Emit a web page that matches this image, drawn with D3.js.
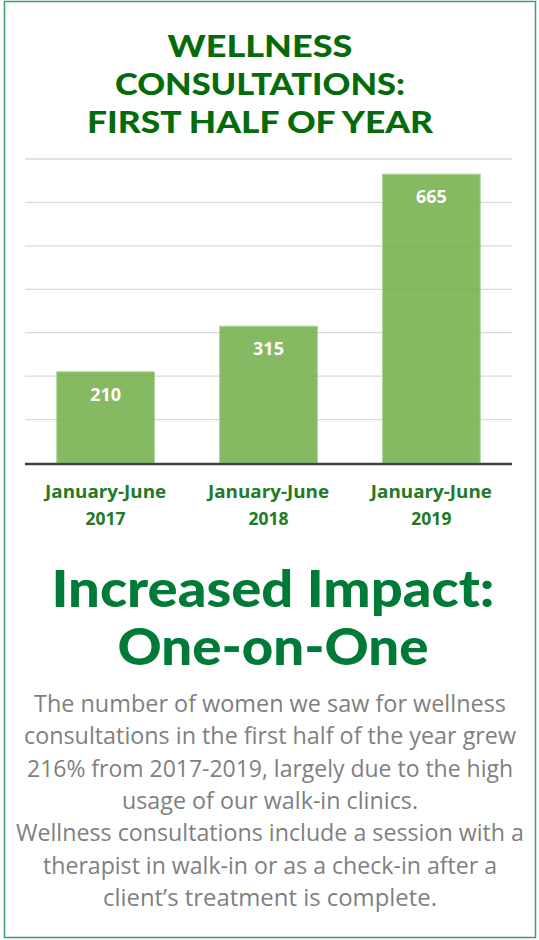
<!DOCTYPE html>
<html><head><meta charset="utf-8">
<script src="https://cdn.jsdelivr.net/npm/d3@7"></script>
<style>html,body{margin:0;padding:0;background:#fff;}svg{display:block;}</style>
</head><body>
<script>
const categories = ["January-June 2017", "January-June 2018", "January-June 2019"];
const values = [210, 315, 665];
const yTicks = [0, 100, 200, 300, 400, 500, 600, 700];
const titleLines = ["WELLNESS", "CONSULTATIONS:", "FIRST HALF OF YEAR"];
const headlineLines = ["Increased Impact:", "One-on-One"];
const bodyLines = [
  "The number of women we saw for wellness",
  "consultations in the first half of the year grew",
  "216% from 2017-2019, largely due to the high",
  "usage of our walk-in clinics.",
  "Wellness consultations include a session with a",
  "therapist in walk-in or as a check-in after a",
  "client\u2019s treatment is complete."
];

const W = 539, H = 940;
const svg = d3.select("body").append("svg").attr("width", W).attr("height", H);

// frame
svg.append("rect").attr("x", 4.5).attr("y", 1.5).attr("width", 531).attr("height", 936)
  .attr("fill", "#fff").attr("stroke", "#3f9c6b").attr("stroke-width", 1.5);

// title
const titleY = [57, 95, 133];
const titleW = [185, 290, 346];
svg.append("g").selectAll("text").data(titleLines).join("text")
  .attr("x", 260).attr("y", (d, i) => titleY[i])
  .attr("text-anchor", "middle")
  .attr("font-family", "Lato, 'Open Sans', sans-serif").attr("font-weight", 900)
  .attr("font-size", 31).attr("fill", "#056b0a")
  .attr("textLength", (d, i) => titleW[i]).attr("lengthAdjust", "spacingAndGlyphs")
  .text(d => d);

// chart
const x = d3.scaleBand().domain(categories).range([25, 512]).paddingInner(0.4).paddingOuter(0.195);
const y = d3.scaleLinear().domain([0, 700]).range([463, 159]);

svg.append("g").selectAll("line").data(yTicks.slice(1)).join("line")
  .attr("x1", 25).attr("x2", 512).attr("y1", d => y(d)).attr("y2", d => y(d))
  .attr("stroke", "#d9d9d9").attr("stroke-width", 1.3);

svg.append("g").selectAll("rect").data(values).join("rect")
  .attr("x", (d, i) => x(categories[i]))
  .attr("width", x.bandwidth())
  .attr("y", d => y(d)).attr("height", d => y(0) - y(d))
  .attr("fill", "rgba(112,173,71,0.85)")
  .attr("stroke", "#a9d49a").attr("stroke-width", 1);

// axis line
svg.append("line").attr("x1", 25).attr("x2", 512).attr("y1", y(0) + 1).attr("y2", y(0) + 1)
  .attr("stroke", "#404040").attr("stroke-width", 2.5);

// value labels
svg.append("g").selectAll("text").data(values).join("text")
  .attr("x", (d, i) => x(categories[i]) + x.bandwidth() / 2)
  .attr("y", d => y(d) + 29)
  .attr("text-anchor", "middle")
  .attr("font-family", "'Open Sans', Lato, sans-serif").attr("font-weight", 700)
  .attr("font-size", 18).attr("fill", "#fff")
  .text(d => d);

// category labels
const cat = svg.append("g").selectAll("text").data(categories).join("text")
  .attr("text-anchor", "middle")
  .attr("font-family", "'Open Sans', Lato, sans-serif").attr("font-weight", 700)
  .attr("font-size", 17.5).attr("fill", "#217a24");
cat.each(function(d) {
  const parts = [d.slice(0, d.lastIndexOf(" ")), d.slice(d.lastIndexOf(" ") + 1)];
  const cx = x(d) + x.bandwidth() / 2;
  d3.select(this).selectAll("text").remove();
  parts.forEach((p, j) => {
    d3.select(this.parentNode).append("text")
      .attr("x", cx).attr("y", 498 + j * 27)
      .attr("text-anchor", "middle")
      .attr("font-family", "'Open Sans', Lato, sans-serif").attr("font-weight", 700)
      .attr("font-size", 17.5).attr("fill", "#217a24")
      .attr("textLength", j === 0 ? 121 : null)
      .attr("lengthAdjust", "spacingAndGlyphs")
      .text(p);
  });
}).remove();

// headline
const headY = [607, 665];
const headW = [443, 311];
svg.append("g").selectAll("text").data(headlineLines).join("text")
  .attr("x", 273).attr("y", (d, i) => headY[i])
  .attr("text-anchor", "middle")
  .attr("font-family", "Lato, 'Open Sans', sans-serif").attr("font-weight", 900)
  .attr("font-size", 51).attr("fill", "#007a37")
  .attr("textLength", (d, i) => headW[i]).attr("lengthAdjust", "spacingAndGlyphs")
  .text(d => d);

// body
const bodyW = [472, 492, 486, 296, 508, 454, 334];
svg.append("g").selectAll("text").data(bodyLines).join("text")
  .attr("x", 270).attr("y", (d, i) => 712 + i * 32.3)
  .attr("text-anchor", "middle")
  .attr("font-family", "'Open Sans', sans-serif")
  .attr("font-size", 23).attr("fill", "#7f7f7f")
  .attr("textLength", (d, i) => bodyW[i]).attr("lengthAdjust", "spacingAndGlyphs")
  .text(d => d);
</script>
</body></html>
